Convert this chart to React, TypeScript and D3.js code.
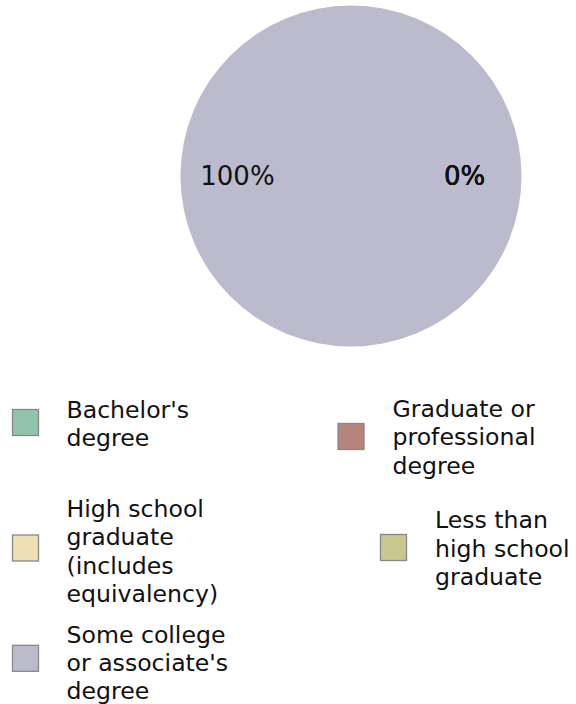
import React from "react";
import * as d3 from "d3";

// ---- data ----
const categories = [
  "Bachelor's degree",
  "Graduate or professional degree",
  "High school graduate (includes equivalency)",
  "Less than high school graduate",
  "Some college or associate's degree",
];
const values = [0, 0, 0, 0, 100];
const colors = ["#91c4ab", "#b5847a", "#f0dfb5", "#c8c890", "#bcbbcd"];
const legendLines = [
  ["Bachelor's", "degree"],
  ["Graduate or", "professional", "degree"],
  ["High school", "graduate", "(includes", "equivalency)"],
  ["Less than", "high school", "graduate"],
  ["Some college", "or associate's", "degree"],
];

// ---- layout ----
const W = 576;
const H = 704;
const CX = 351;
const CY = 176;
const R = 170.5;
const LABEL_R = R * 0.666;
const legendLayout = [
  { sx: 12.5, sy: 409.5, tx: 66.5, ty: 418 },
  { sx: 338, sy: 423.5, tx: 392.5, ty: 416.7 },
  { sx: 12.5, sy: 535, tx: 66.5, ty: 516.7 },
  { sx: 380.5, sy: 534.5, tx: 435, ty: 528.3 },
  { sx: 12.5, sy: 645.3, tx: 66.5, ty: 642.5 },
];
const LINE_H = 28.4;
const FONT = "'DejaVu Sans', Verdana, sans-serif";

export default function App() {
  const data = categories.map((c, i) => ({ name: c, value: values[i], color: colors[i] }));
  const pie = d3
    .pie<any>()
    .sort(null)
    .value((d) => d.value)
    .startAngle(Math.PI / 2)
    .endAngle(Math.PI / 2 - 2 * Math.PI);
  const arcs = pie(data);
  const arc = d3.arc<any>().innerRadius(0).outerRadius(R);
  const labelArc = d3.arc<any>().innerRadius(LABEL_R).outerRadius(LABEL_R);
  const total = d3.sum(values);
  const fmt = (v: number) => `${Math.round((v / total) * 100)}%`;

  return (
    <svg
      width={W}
      height={H}
      style={{ position: "absolute", left: 0, top: 0, display: "block", background: "#fff" }}
      fontFamily={FONT}
    >
      <g transform={`translate(${CX},${CY})`}>
        {arcs.map((a, i) => (
          <path key={i} d={arc(a) || ""} fill={a.data.color} />
        ))}
        {arcs.map((a, i) => {
          const [x, y] = labelArc.centroid(a);
          return (
            <text
              key={"l" + i}
              x={x}
              y={y}
              textAnchor="middle"
              dominantBaseline="central"
              fontSize={26}
              fill="#111"
            >
              {fmt(a.data.value)}
            </text>
          );
        })}
      </g>
      <g>
        {data.map((d, i) => {
          const L = legendLayout[i];
          return (
            <g key={"leg" + i}>
              <rect
                x={L.sx}
                y={L.sy}
                width={26}
                height={26}
                fill={d.color}
                stroke="#888"
                strokeWidth={1.3}
              />
              <text x={L.tx} y={L.ty} fontSize={23.6} fill="#111">
                {legendLines[i].map((ln, j) => (
                  <tspan key={j} x={L.tx} y={L.ty + j * LINE_H}>
                    {ln}
                  </tspan>
                ))}
              </text>
            </g>
          );
        })}
      </g>
    </svg>
  );
}
